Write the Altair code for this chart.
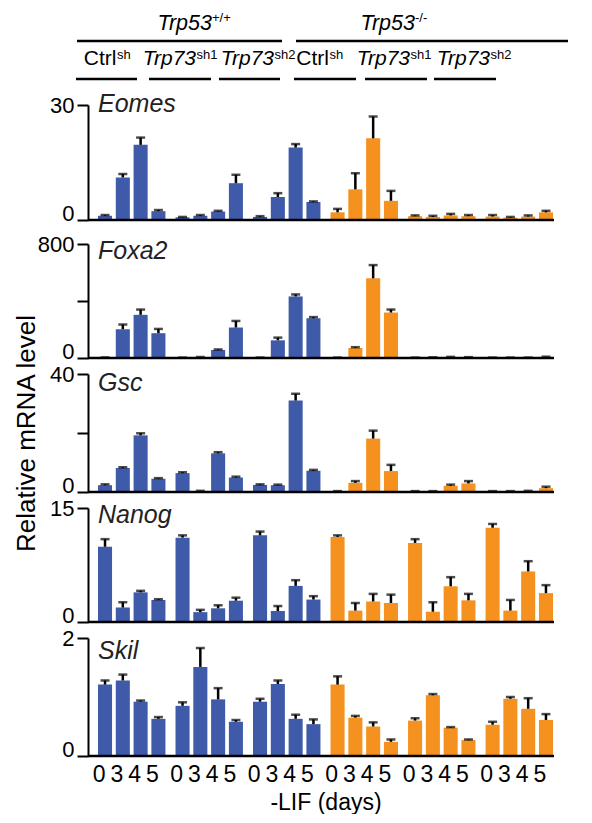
import altair as alt
import pandas as pd

FONT = "Liberation Sans"

groups = ["wt_ctrl", "wt_sh1", "wt_sh2", "ko_ctrl", "ko_sh1", "ko_sh2"]
genotype = ["Trp53+/+", "Trp53+/+", "Trp53+/+", "Trp53-/-", "Trp53-/-", "Trp53-/-"]
days = ["0", "3", "4", "5"]
geno_colors = ["#3F5AA9", "#F5921F"]

eomes_mean = [1.1, 11.1, 19.6, 2.3, 0.7, 1.1, 2.2, 9.6, 0.8, 6.0, 18.9, 4.7,
              2.0, 8.0, 21.3, 5.0, 1.0, 0.8, 1.2, 1.0, 0.9, 0.6, 0.9, 2.0]
eomes_err = [0.2, 0.9, 1.9, 0.3, 0.1, 0.2, 0.2, 2.2, 0.2, 1.0, 0.9, 0.15,
             0.9, 4.2, 5.7, 2.6, 0.2, 0.3, 0.4, 0.3, 0.4, 0.2, 0.3, 0.4]

foxa2_mean = [3, 202, 303, 174, 2, 5, 56, 214, 2, 124, 432, 279,
              2, 70, 559, 319, 2, 3, 5, 4, 2, 2, 2, 6]
foxa2_err = [1, 33, 37, 30, 1, 2, 4, 46, 1, 19, 14, 8,
             1, 6, 93, 21, 1, 2, 3, 2, 1, 1, 1, 3]

gsc_mean = [2.3, 8.1, 19.2, 4.5, 6.4, 0.3, 13.1, 4.9, 2.4, 2.3, 31.0, 7.2,
            0.2, 3.1, 18.1, 7.1, 0.2, 0.2, 2.1, 2.9, 0.2, 0.2, 0.3, 1.3]
gsc_err = [0.3, 0.3, 0.7, 0.2, 0.3, 0.1, 0.4, 0.3, 0.2, 0.2, 2.3, 0.3,
           0.1, 0.6, 2.7, 2.1, 0.1, 0.1, 0.4, 0.8, 0.1, 0.1, 0.1, 0.5]

nanog_mean = [9.9, 1.9, 3.9, 2.9, 11.1, 1.3, 1.8, 2.8, 11.4, 1.45, 4.75, 2.95,
              11.2, 1.5, 2.7, 2.5, 10.4, 1.35, 4.7, 2.85, 12.4, 1.5, 6.65, 3.8]
nanog_err = [1.0, 0.7, 0.2, 0.1, 0.3, 0.3, 0.4, 0.4, 0.5, 0.65, 0.75, 0.45,
             0.2, 1.0, 1.0, 1.1, 0.5, 1.25, 1.2, 0.85, 0.5, 1.4, 1.35, 1.05]

skil_mean = [1.21, 1.28, 0.92, 0.63, 0.85, 1.51, 0.96, 0.58, 0.92, 1.22, 0.63, 0.54,
             1.21, 0.65, 0.50, 0.24, 0.60, 1.03, 0.48, 0.27, 0.53, 0.97, 0.80, 0.61]
skil_err = [0.07, 0.10, 0.02, 0.03, 0.06, 0.32, 0.19, 0.03, 0.05, 0.06, 0.07, 0.08,
            0.14, 0.03, 0.07, 0.04, 0.04, 0.02, 0.01, 0.01, 0.05, 0.03, 0.18, 0.10]

genes = ["Eomes", "Foxa2", "Gsc", "Nanog", "Skil"]
y_tops = [30, 800, 40, 15, 2]
y_ticks = [[0, 10, 20, 30], [0, 200, 400, 600, 800], [0, 10, 20, 30, 40],
           [0, 5, 10, 15], [0, 0.6, 1.3, 2]]

dummy = pd.DataFrame({"k": [0]})
W = 466


def panel_df(means, errs):
    rows = []
    for i, (m, e) in enumerate(zip(means, errs)):
        g = i // 4
        rows.append({"group": groups[g], "geno": genotype[g], "day": days[i % 4],
                     "value": m, "upper": m + e})
    return pd.DataFrame(rows)


def make_panel(gene, means, errs, top, ticks, h, label_y, ytitle=None, bottom=False):
    df = panel_df(means, errs)
    if bottom:
        xaxis = alt.Axis(domain=False, ticks=False, labels=False, grid=False,
                         title="-LIF (days)", titleFontSize=23, titleFontWeight="normal",
                         titleColor="black", titlePadding=35, titleFont=FONT)
    else:
        xaxis = None
    X = alt.X("group:N", scale=alt.Scale(domain=groups, range=[10, 465],
                                          paddingInner=0.13, paddingOuter=0),
              axis=xaxis)
    XO = alt.XOffset("day:N", scale=alt.Scale(domain=days, paddingInner=0.21, paddingOuter=0))
    yscale = alt.Scale(domain=[0, top], nice=False, zero=True)
    yaxis = alt.Axis(values=ticks, format=".0f",
                     labelExpr=f"datum.value == 0 || datum.value == {top} ? datum.label : ''",
                     labelOffset={"condition": {"test": "datum.value == 0", "value": -7},
                                  "value": 0},
                     tickSize=11, tickWidth=2, tickColor="black",
                     domainWidth=2, domainColor="black", grid=False,
                     labelFontSize=22, labelPadding=3, labelColor="black", labelFont=FONT,
                     titleFontSize=26, titleFontWeight="normal", titleColor="black",
                     titlePadding=10, titleFont=FONT)
    base = alt.Chart(df)
    bars = base.mark_bar().encode(
        x=X, xOffset=XO,
        y=alt.Y("value:Q", scale=yscale, axis=yaxis, title=ytitle),
        color=alt.Color("geno:N", scale=alt.Scale(domain=["Trp53+/+", "Trp53-/-"],
                                                  range=geno_colors), legend=None),
    )
    err = base.mark_rule(strokeWidth=2.5, color="black").encode(
        x=X, xOffset=XO,
        y=alt.Y("value:Q", scale=yscale, title=ytitle), y2="upper:Q")
    cap = base.mark_tick(thickness=2.5, size=9, color="black").encode(
        x=X, xOffset=XO, y=alt.Y("upper:Q", scale=yscale, title=ytitle))
    baseline = alt.Chart(dummy).mark_rule(strokeWidth=2.5, color="black").encode(
        y=alt.datum(0))
    name = alt.Chart(dummy).mark_text(align="left", baseline="alphabetic", fontSize=25,
                                      fontStyle="italic", font=FONT, color="#222222").encode(
        x=alt.value(10), y=alt.value(label_y), text=alt.value(gene))
    layers = [bars, err, cap, baseline, name]
    if bottom:
        daylab = base.mark_text(fontSize=23, baseline="alphabetic", dx=-6, color="black",
                                font=FONT).encode(
            x=X, xOffset=XO, y=alt.value(h + 26), text="day:N")
        layers.append(daylab)
    return alt.layer(*layers).properties(width=W, height=h)


# ---- header annotations ----
hdr_layers = []


def htext(txt, x, y, size, align, italic=False):
    hdr_layers.append(
        alt.Chart(dummy).mark_text(align=align, baseline="alphabetic", fontSize=size,
                                   fontStyle="italic" if italic else "normal",
                                   font=FONT, color="black").encode(
            x=alt.value(x), y=alt.value(y), text=alt.value(txt)))


def hline(x1, x2, y):
    hdr_layers.append(
        alt.Chart(dummy).mark_rule(strokeWidth=2.5, color="black").encode(
            x=alt.value(x1), x2=alt.value(x2), y=alt.value(y)))


# top row
htext("Trp53", 124, 22, 21.5, "right", True)
htext("+/+", 124, 14, 13, "left")
htext("Trp53", 327, 22, 21.5, "right", True)
htext("-/-", 327, 14, 13, "left")
hline(-11, 194, 33)
hline(208, 480, 33)

# second row
sub_main = ["Ctrl", "Trp73", "Trp73", "Ctrl", "Trp73", "Trp73"]
sub_sup = ["sh", "sh1", "sh2", "sh", "sh1", "sh2"]
sub_anchor = [28.5, 108, 186, 241, 322, 402]
sub_lines = [(-12, 49), (61, 123), (131, 192), (206, 268), (277, 339), (346, 408)]
for m, s, a, (l1, l2) in zip(sub_main, sub_sup, sub_anchor, sub_lines):
    htext(m, a, 57, 21, "right", m != "Ctrl")
    htext(s, a + 0.5, 51, 13, "left")
    hline(l1, l2, 71)

header = alt.layer(*hdr_layers).properties(width=W, height=73)

p_eomes = make_panel("Eomes", eomes_mean, eomes_err, y_tops[0], y_ticks[0], 115, 7)
p_foxa2 = make_panel("Foxa2", foxa2_mean, foxa2_err, y_tops[1], y_ticks[1], 114, 15)
p_gsc = make_panel("Gsc", gsc_mean, gsc_err, y_tops[2], y_ticks[2], 118, 17,
                   ytitle="Relative mRNA level")
p_nanog = make_panel("Nanog", nanog_mean, nanog_err, y_tops[3], y_ticks[3], 114, 15)
p_skil = make_panel("Skil", skil_mean, skil_err, y_tops[4], y_ticks[4], 118, 21, bottom=True)

inner = alt.vconcat(p_foxa2, p_gsc, p_nanog, p_skil, spacing=16, bounds="flush")
chart = alt.vconcat(header, p_eomes, inner, spacing=24, bounds="flush").properties(
    padding={"left": 5, "top": 0, "right": 0, "bottom": 0}
).configure(font=FONT).configure_view(stroke=None)

chart.save("out.html", embed_options={"renderer": "svg", "actions": False})
